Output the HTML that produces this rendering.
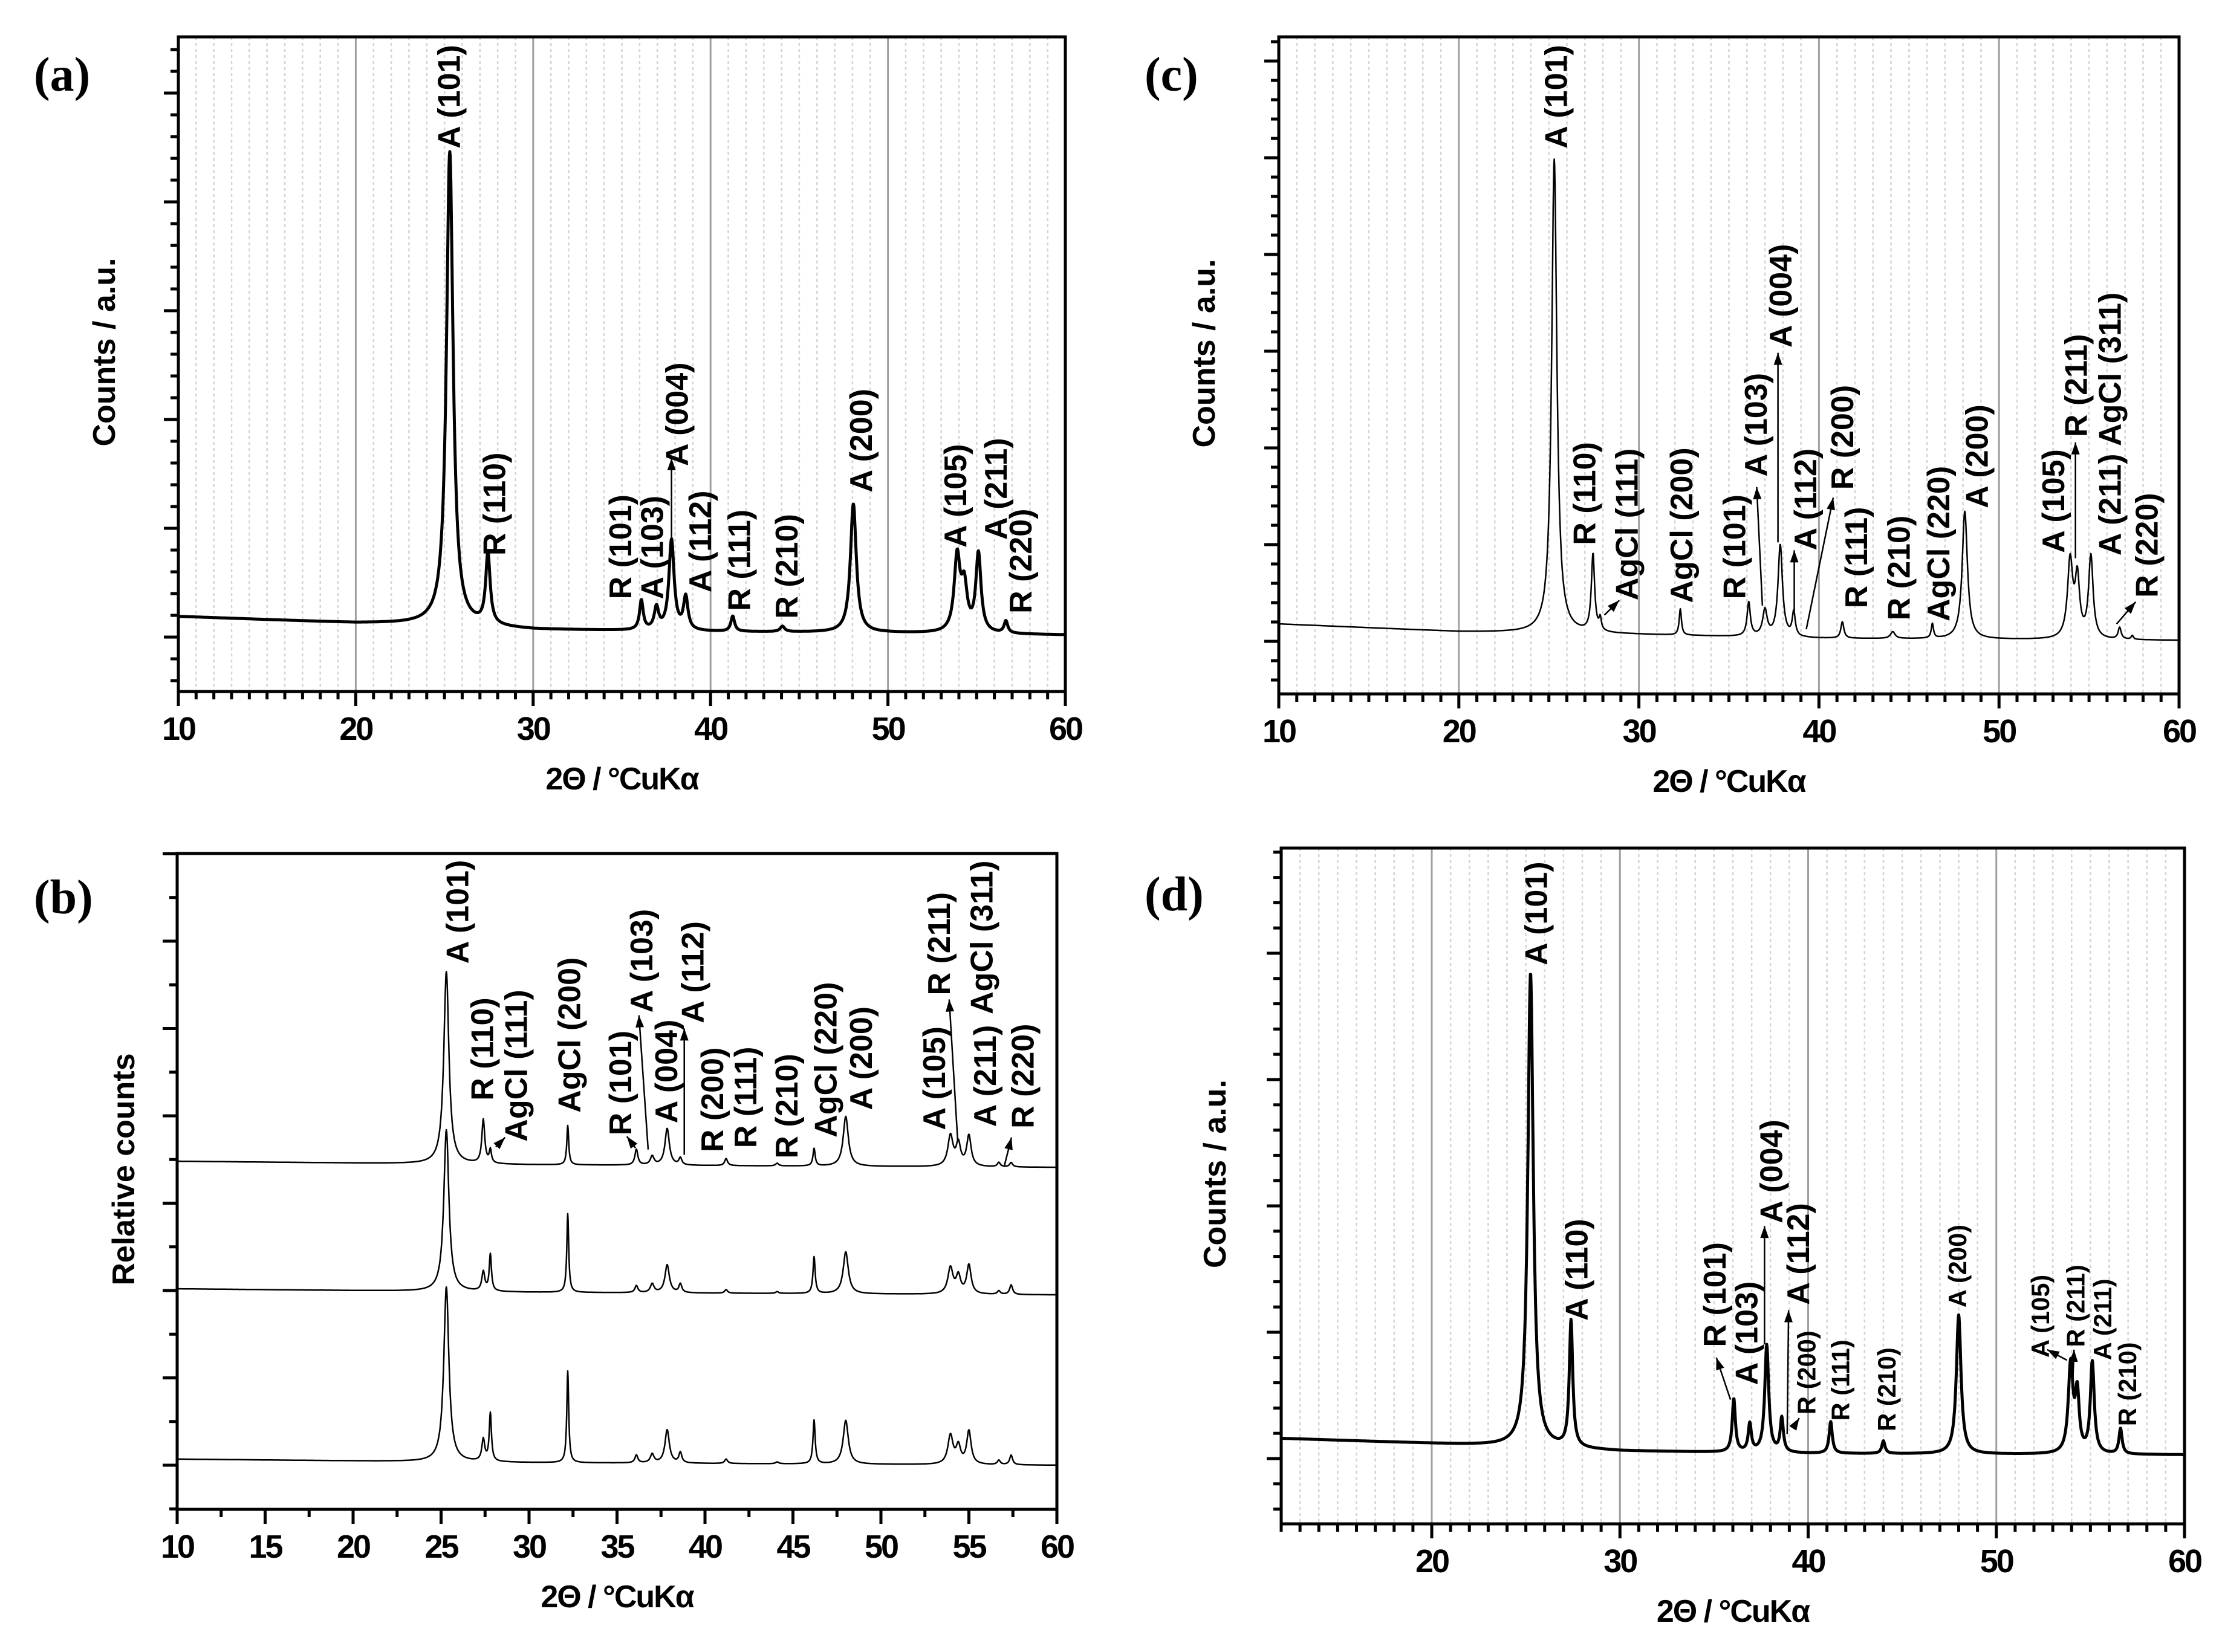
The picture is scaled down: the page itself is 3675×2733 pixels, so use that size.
<!DOCTYPE html>
<html><head><meta charset="utf-8"><title>XRD patterns</title>
<style>
html,body{margin:0;padding:0;background:#fff;}
svg{display:block;}
text{font-family:"Liberation Sans",sans-serif;font-weight:bold;fill:#000;}
.pl{font-family:"Liberation Serif",serif;font-weight:bold;}
</style></head>
<body>
<svg id="fig" xmlns="http://www.w3.org/2000/svg" width="3675" height="2733" viewBox="0 0 3675 2733"></svg>
<script>
// ---------- DATA ----------
// Panel (a)
const aPeakPos = [25.3,27.45,36.1,36.95,37.8,38.6,41.25,44.05,48.05,53.9,54.3,55.1,56.65];
const aPeakHeight = [4.35,0.65,0.27,0.2,0.83,0.3,0.14,0.05,1.18,0.68,0.4,0.72,0.11];
const aPeakWidth = [0.45,0.3,0.25,0.3,0.35,0.3,0.25,0.3,0.4,0.4,0.4,0.35,0.25];
const aBaseX = [10,20,24,30,40,50,60];
const aBaseY = [0.19,0.13,0.12,0.07,0.05,0.04,0.02];
// Panel (c)
const cPeakPos = [25.3,27.45,27.85,32.3,36.1,37.0,37.85,38.6,41.3,44.1,46.3,48.1,53.95,54.35,55.1,56.7,57.4];
const cPeakHeight = [4.9,0.8,0.12,0.27,0.35,0.27,0.95,0.25,0.17,0.07,0.15,1.32,0.8,0.6,0.85,0.12,0.04];
const cPeakWidth = [0.35,0.22,0.15,0.15,0.22,0.3,0.3,0.2,0.2,0.3,0.15,0.35,0.35,0.3,0.3,0.2,0.15];
const cBaseX = [10,20,30,40,60];
const cBaseY = [0.18,0.1,0.07,0.03,0.01];
// Panel (d)
const dPeakPos = [25.25,27.4,36.05,36.9,37.8,38.6,41.2,44.0,48.0,53.95,54.3,55.1,56.6];
const dPeakHeight = [3.75,1.0,0.42,0.22,0.85,0.27,0.25,0.1,1.1,0.7,0.45,0.72,0.2];
const dPeakWidth = [0.35,0.22,0.2,0.2,0.25,0.2,0.2,0.2,0.3,0.3,0.25,0.25,0.2];
const dBaseX = [12,20,24,30,40,60];
const dBaseY = [0.16,0.12,0.1,0.06,0.04,0.03];
// Panel (b) three stacked traces
const bPeakPos = [25.3,27.4,27.8,32.2,36.1,37.0,37.85,38.6,41.2,44.1,46.2,48.0,53.95,54.4,55.0,56.7,57.4];
const bPeakWidth = [0.35,0.2,0.15,0.13,0.2,0.25,0.3,0.2,0.2,0.2,0.15,0.35,0.35,0.3,0.3,0.2,0.2];
const bHeightBottom = [2.0,0.25,0.55,1.05,0.09,0.1,0.38,0.12,0.05,0.02,0.5,0.5,0.33,0.2,0.38,0.05,0.11];
const bHeightMiddle = [1.85,0.22,0.42,0.9,0.08,0.1,0.32,0.1,0.04,0.02,0.42,0.48,0.3,0.2,0.33,0.04,0.11];
const bHeightTop = [2.2,0.5,0.15,0.45,0.18,0.1,0.42,0.08,0.08,0.03,0.2,0.57,0.35,0.25,0.35,0.05,0.05];
const bOffsets = [0.01,1.96,3.42];
const bBaseX = [10,30,60];
const bBaseY = [0.06,0.02,-0.01];
// x tick labels
const ticksA = ["10","20","30","40","50","60"];
const ticksB = ["10","15","20","25","30","35","40","45","50","55","60"];
const ticksD = ["20","30","40","50","60"];

// ---------- HELPERS ----------
const NS = "http://www.w3.org/2000/svg";
const svg = document.getElementById("fig");
const FX = 1837/1568, FY = 1366/1568;
function mk(tag, attrs, parent){
  const e = document.createElementNS(NS, tag);
  for (const k in attrs) e.setAttribute(k, attrs[k]);
  (parent||svg).appendChild(e);
  return e;
}
function interp(xs, ys, x){
  if (x <= xs[0]) return ys[0];
  for (let i=1;i<xs.length;i++){
    if (x <= xs[i]){ const t=(x-xs[i-1])/(xs[i]-xs[i-1]); return ys[i-1]+t*(ys[i]-ys[i-1]); }
  }
  return ys[ys.length-1];
}
function pattern(x, pos, h, w, bx, by){
  let y = interp(bx, by, x);
  for (let i=0;i<pos.length;i++){
    const u = (x-pos[i])/(w[i]/2);
    y += h[i]/(1+u*u);
  }
  return y;
}
function makePanel(p){
  const g = mk("g", {});
  
  
  p.g = g;
  p.X = v => p.L + (v-p.xmin)/(p.xmax-p.xmin)*(p.R-p.L);
  p.Y = v => p.y0 - v*p.ppu;
  p.ZX = zx => p.ox + zx*FX;
  p.ZY = zy => p.oy + zy*FY;
  if (p.grid){
    for (let v=Math.ceil(p.xmin); v<p.xmax; v++){
      if (v===p.xmin) continue;
      const major = v%10===0;
      const ln = mk("line", {x1:p.X(v),x2:p.X(v),y1:p.T,y2:p.B,
        stroke: major?"#a0a0a0":"#d4d4d4","stroke-width": major?3:2.5,
        "stroke-dasharray": major?"none":"5,5"}, g);
      
      
    }
  }
  for (let v=p.xmin; v<=p.xmax+1e-6; v+=p.xminor){
    const major = Math.abs(v/p.xmajor - Math.round(v/p.xmajor))<1e-6;
    const t = mk("line", {x1:p.X(v),x2:p.X(v),y1:p.B,y2:p.B+(major?24:13),stroke:"#000","stroke-width":5}, g);
    
    
  }
  p.xlabels.forEach(s => {
    const v = parseFloat(s);
    const t = mk("text", {x:p.X(v), y:p.B+80, "text-anchor":"middle","font-size":54,"letter-spacing":-3}, g);
    t.textContent = s;
    
    
  });
  const vTop = (p.y0-p.T)/p.ppu, vBot = (p.y0-p.B)/p.ppu;
  for (let k=Math.ceil(vBot/p.yminor); k*p.yminor<=vTop+1e-6; k++){
    const v = k*p.yminor;
    const major = Math.abs(v - Math.round(v))<1e-6;
    const t = mk("line", {x1:p.L,x2:p.L-(major?24:13),y1:p.Y(v),y2:p.Y(v),stroke:"#000","stroke-width":5}, g);
    
    
  }
  const box = mk("rect", {x:p.L,y:p.T,width:p.R-p.L,height:p.B-p.T,fill:"none",stroke:"#000","stroke-width":5}, g);
  
  
  const xt = mk("text", {x:(p.L+p.R)/2, y:p.B+162, "text-anchor":"middle","font-size":52,"letter-spacing":-2}, g);
  xt.textContent = "2\u0398 / \u00B0CuK\u03B1";
  
  
  const yt = mk("text", {transform:`translate(${p.ytx},${(p.T+p.B)/2+p.ytdy}) rotate(-90)`, "text-anchor":"middle","font-size":52}, g);
  yt.textContent = p.ytitle;
  
  
  const pl = mk("text", {x:p.ox+56, y:p.oy+p.plY, "font-size":80, class:"pl"}, g);
  pl.textContent = p.letter;
  
  
}
function drawTrace(p, pos, h, w, bx, by, offset, sw, name){
  let d = "";
  const step = 0.02;
  for (let x=p.xmin; x<=p.xmax+1e-9; x+=step){
    const y = pattern(x, pos, h, w, bx, by) + offset;
    d += (d? "L":"M") + p.X(x).toFixed(1) + "," + p.Y(y).toFixed(1);
  }
  const path = mk("path", {d:d, fill:"none", stroke:"#000", "stroke-width":sw, "stroke-linejoin":"round"}, p.g);
  
  
}
function labels(p, list, fs){
  list.forEach(l => {
    const size = (l[3]||1)*fs;
    const X = p.ZX(l[1]) + 0.36*size, Y = p.ZY(l[2]);
    const t = mk("text", {transform:`translate(${X.toFixed(1)},${Y.toFixed(1)}) rotate(-90)`, "font-size":size}, p.g);
    t.textContent = l[0];
    
    
  });
}
function arrows(p, list){
  list.forEach(a => {
    const x1=p.ZX(a[0]), y1=p.ZY(a[1]), x2=p.ZX(a[2]), y2=p.ZY(a[3]);
    const ln = mk("line", {x1:x1,y1:y1,x2:x2,y2:y2,stroke:"#000","stroke-width":2.5}, p.g);
    
    
    const ang = Math.atan2(y2-y1, x2-x1), L=20, W=7;
    const bx = x2 - L*Math.cos(ang), by = y2 - L*Math.sin(ang);
    const px = -Math.sin(ang)*W, py = Math.cos(ang)*W;
    const hd = mk("polygon", {points:`${x2},${y2} ${bx+px},${by+py} ${bx-px},${by-py}`, fill:"#000"}, p.g);
    
    
  });
}

// ---------- PANELS ----------
const A = {name:"panel-a", letter:"(a)", ox:0, oy:0, L:295, R:1762, T:61, B:1144, xmin:10, xmax:60,
  xmajor:10, xminor:1, xlabels:ticksA, y0:1054, ppu:180, yminor:0.2, grid:true,
  ytitle:"Counts / a.u.", ytx:190, ytdy:-20, plY:150};
const B = {name:"panel-b", letter:"(b)", ox:0, oy:1366, L:293, R:1748, T:1412, B:2497, xmin:10, xmax:60,
  xmajor:5, xminor:2.5, xlabels:ticksB, y0:2424, ppu:144.5, yminor:0.5, grid:false,
  ytitle:"Relative counts", ytx:222, ytdy:-20, plY:145};
const C = {name:"panel-c", letter:"(c)", ox:1837, oy:0, L:2115, R:3604, T:61, B:1148, xmin:10, xmax:60,
  xmajor:10, xminor:1, xlabels:ticksA, y0:1061, ppu:160, yminor:0.2, grid:true,
  ytitle:"Counts / a.u.", ytx:1837+172, ytdy:-20, plY:150};
const D = {name:"panel-d", letter:"(d)", ox:1837, oy:1366, L:2119, R:3613, T:1403, B:2521, xmin:12, xmax:60,
  xmajor:10, xminor:1, xlabels:ticksD, y0:2413, ppu:209, yminor:0.2, grid:true,
  ytitle:"Counts / a.u.", ytx:1837+190, ytdy:-20, plY:140};
[A,B,C,D].forEach(makePanel);

drawTrace(A, aPeakPos, aPeakHeight, aPeakWidth, aBaseX, aBaseY, 0, 5, "pattern-a");
drawTrace(C, cPeakPos, cPeakHeight, cPeakWidth, cBaseX, cBaseY, 0, 2.5, "pattern-c");
drawTrace(D, dPeakPos, dPeakHeight, dPeakWidth, dBaseX, dBaseY, 0, 5, "pattern-d");
drawTrace(B, bPeakPos, bHeightBottom, bPeakWidth, bBaseX, bBaseY, bOffsets[0], 2.5, "pattern-b-bottom");
drawTrace(B, bPeakPos, bHeightMiddle, bPeakWidth, bBaseX, bBaseY, bOffsets[1], 2.5, "pattern-b-middle");
drawTrace(B, bPeakPos, bHeightTop, bPeakWidth, bBaseX, bBaseY, bOffsets[2], 2.5, "pattern-b-top");

// ---------- ANNOTATIONS ----------
labels(A, [
  ["A (101)",633,282],["R (110)",697,1055],["R (101)",875,1138],["A (103)",920,1138],
  ["A (004)",955,885],["A (112)",988,1125],["R (111)",1043,1160],["R (210)",1110,1175],
  ["A (200)",1215,935],["A (105)",1348,1040],["A (211)",1405,1025],["R (220)",1440,1165]
], 52);
arrows(A, [[948,1020,948,870]]);

labels(C, [
  ["A (101)",628,282],["R (110)",668,1035],["AgCl (111)",728,1140],["AgCl (200)",805,1145],
  ["R (101)",880,1138],["A (103)",910,905],["A (004)",945,660],["A (112)",980,1045],
  ["R (200)",1032,930],["R (111)",1052,1155],["R (210)",1112,1178],["AgCl (220)",1168,1180],
  ["A (200)",1222,965],["A (105)",1330,1050],["R (211)",1362,830],["A (211) AgCl (311)",1410,1055],
  ["R (220)",1462,1135]
], 52);
arrows(C, [[697,1168,718,1140],[920,1150,912,925],[942,1030,942,670],[965,1160,965,1045],
  [982,1195,1020,945],[1362,1060,1362,840],[1420,1185,1447,1143]]);

labels(D, [
  ["A (101)",600,265],["A (110)",657,940],["R (101)",852,990],["A (103)",897,1062],
  ["A (004)",932,755],["A (112)",970,910],["R (200)",982,1118,0.8],["R (111)",1030,1130,0.8],
  ["R (210)",1095,1150,0.8],["A (200)",1195,915,0.8],["A (105)",1312,1010,0.8],["R (211)",1362,990,0.8],
  ["A (211)",1400,1015,0.8],["R (210)",1435,1140,0.8]
], 52);
arrows(D, [[875,1090,855,1010],[923,985,923,760],[955,1155,957,920],[965,1140,972,1125],
  [1350,1015,1322,995],[1358,1065,1360,995]]);

labels(B, [
  ["A (101)",645,262],["R (110)",680,522],["AgCl (111)",728,600],["AgCl (200)",803,545],
  ["R (101)",875,588],["A (103)",905,355],["A (004)",940,565],["A (112)",977,375],
  ["R (200)",1005,620],["R (111)",1052,612],["R (210)",1110,632],["AgCl (220)",1165,592],
  ["A (200)",1215,540],["A (105)",1318,578],["R (211)",1325,322],["AgCl (311)",1385,358],
  ["A (211)",1390,572],["R (220)",1443,575]
], 52);
arrows(B, [[700,610,713,592],[897,612,885,590],[915,615,902,360],[966,625,966,385],
  [1352,598,1340,330],[1418,645,1428,592]]);
</script>
</body></html>
